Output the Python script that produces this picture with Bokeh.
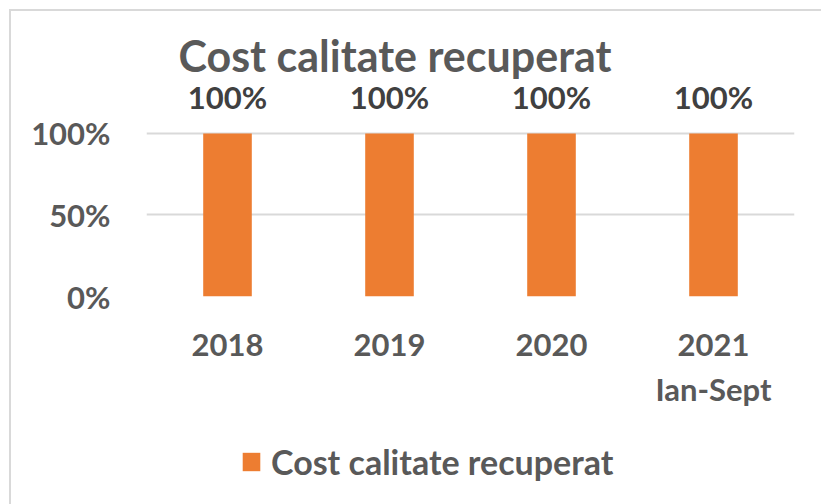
from bokeh.plotting import figure
from bokeh.layouts import column
from bokeh.models import (ColumnDataSource, FactorRange, Range1d, Legend, LegendItem, FixedTicker)
from bokeh.core.properties import value
from bokeh.embed import file_html
from bokeh.resources import INLINE

categories = ["2018", "2019", "2020", "2021\nIan-Sept"]
values = [1.0, 1.0, 1.0, 1.0]
value_labels = ["100%", "100%", "100%", "100%"]
y_ticks = [0, 0.5, 1.0]
y_tick_labels = {0: "0%", 0.5: "50%", 1.0: "100%"}
title_text = "Cost calitate recuperat"
series_name = "Cost calitate recuperat"

FONT = "Lato"
BAR = "#ED7D31"
GRID = "#D9D9D9"
TXT = "#595959"
DLBL = "#404040"

src = ColumnDataSource(dict(cat=categories, val=values, lbl=value_labels))
xr = FactorRange(*categories)

# chart sits inside an 11px offset (9px margin + 2px border)
p = figure(width=810, height=419, x_range=xr, y_range=Range1d(0, 1.3),
           output_backend="svg", toolbar_location=None, title=title_text,
           min_border_left=135, min_border_right=27, min_border_top=73, min_border_bottom=134)
p.outline_line_color = None
p.background_fill_color = "white"
p.border_fill_color = "white"

r = p.vbar(x="cat", top="val", width=0.3, source=src, fill_color=BAR, line_color=None)

p.text(x="cat", y="val", text="lbl", source=src, text_align="center", text_baseline="alphabetic",
       y_offset=-36, text_font=value(FONT), text_font_style="bold", text_font_size="31px",
       text_color=DLBL)

p.title.align = "left"
p.title.offset = 32
p.title.text_font = FONT
p.title.text_font_style = "bold"
p.title.text_font_size = "43px"
p.title.text_color = TXT
p.title.standoff = 8

p.xgrid.grid_line_color = None
p.ygrid.grid_line_color = GRID
p.ygrid.grid_line_width = 2
p.yaxis.ticker = FixedTicker(ticks=y_ticks)
p.yaxis.major_label_overrides = y_tick_labels

for ax in (p.xaxis[0], p.yaxis[0]):
    ax.axis_line_color = None
    ax.major_tick_line_color = None
    ax.minor_tick_line_color = None
    ax.major_tick_out = 0
    ax.major_tick_in = 0
    ax.major_label_text_font = FONT
    ax.major_label_text_font_style = "bold"
    ax.major_label_text_font_size = "31px"
    ax.major_label_text_color = TXT
p.yaxis.major_label_standoff = 36
p.xaxis.major_label_standoff = 28

# legend strip below the chart (its series glyph lies outside the strip's y range)
pl = figure(width=810, height=74, x_range=xr, y_range=Range1d(2, 3),
            output_backend="svg", toolbar_location=None, x_axis_location=None, y_axis_location=None,
            min_border=0)
pl.outline_line_color = None
pl.border_fill_color = "white"
pl.background_fill_color = "white"
pl.grid.grid_line_color = None
lr = pl.vbar(x="cat", top="val", width=0.3, source=src, fill_color=BAR, line_color=None)
legend = Legend(items=[LegendItem(label=series_name, renderers=[lr])], location=(94, 22),
                glyph_width=22, glyph_height=23, label_standoff=9, padding=0, margin=0,
                border_line_color=None, background_fill_alpha=0,
                label_text_font=FONT, label_text_font_style="bold",
                label_text_font_size="34px", label_text_color=TXT)
pl.add_layout(legend, "center")

layout = column(p, pl, spacing=0)
layout.styles = {"margin-left": "9px", "margin-top": "9px",
                 "border-left": "2px solid #D9D9D9", "border-top": "2px solid #D9D9D9"}

open("out.html", "w").write(file_html(layout, INLINE))
